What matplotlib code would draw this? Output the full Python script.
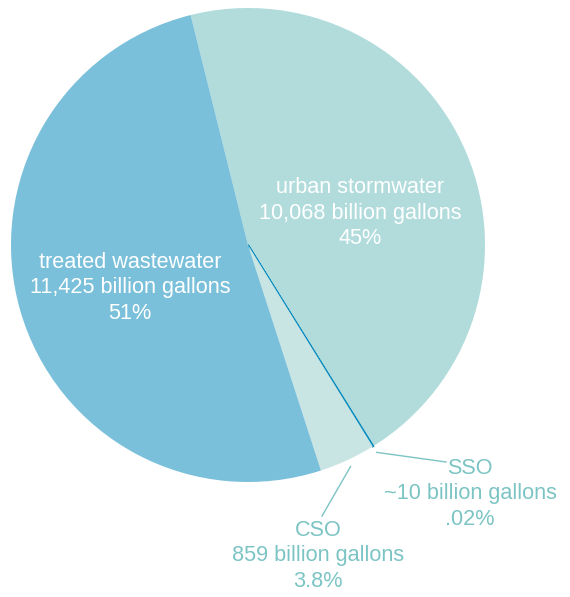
import numpy as np
import matplotlib
matplotlib.use("Agg")
import matplotlib.pyplot as plt

# data (clockwise from top)
names = ["urban stormwater", "SSO", "CSO", "treated wastewater"]
volumes = [10068, 10, 859, 11425]
vol_labels = ["10,068 billion gallons", "~10 billion gallons", "859 billion gallons", "11,425 billion gallons"]
pct_labels = ["45%", ".02%", "3.8%", "51%"]
colors = ["#b2dcdc", "#0a8cc0", "#c9e5e3", "#7ac0da"]

plt.rcParams['font.family'] = ['Liberation Sans', 'DejaVu Sans']

W, H = 570, 597
cx, cy, R = 248, 245, 237

def px(x, y):
    # pixel position -> data coords (pie radius 1)
    return (x - cx) / R, (cy - y) / R

fig = plt.figure(figsize=(W / 100, H / 100), dpi=100)
ax = fig.add_axes([0, 0, 1, 1])

wedges, _ = ax.pie(volumes, colors=colors, startangle=104, counterclock=False,
                   radius=1, center=(0, 0), frame=True)
# the SSO sliver is drawn as a dark line
wedges[1].set_edgecolor(colors[1])
wedges[1].set_linewidth(1.3)
ax.axis('off')
ax.set_xlim(-cx / R, (W - cx) / R)
ax.set_ylim(-(H - cy) / R, cy / R)

fs = 15.6
inner = {0: (360, 213), 3: (130, 288)}
for i, (x, y) in inner.items():
    tx, ty = px(x, y)
    ax.text(tx, ty, f"{names[i]}\n{vol_labels[i]}\n{pct_labels[i]}", ha='center', va='center',
            color='white', fontsize=fs, linespacing=1.26)

label_col = "#7cc4c4"
outer = {1: ((470, 494), (446, 462)), 2: ((318, 556), (322, 516))}
for i, ((x, y), (lx, ly)) in outer.items():
    w = wedges[i]
    ang = np.deg2rad((w.theta1 + w.theta2) / 2)
    start = (1.03 * np.cos(ang), 1.03 * np.sin(ang))
    tx, ty = px(x, y)
    ax.text(tx, ty, f"{names[i]}\n{vol_labels[i]}\n{pct_labels[i]}", ha='center', va='center',
            color=label_col, fontsize=fs, linespacing=1.26)
    ax.plot([start[0], px(lx, ly)[0]], [start[1], px(lx, ly)[1]], color=label_col, lw=1)

fig.savefig("out.png", dpi=100)
